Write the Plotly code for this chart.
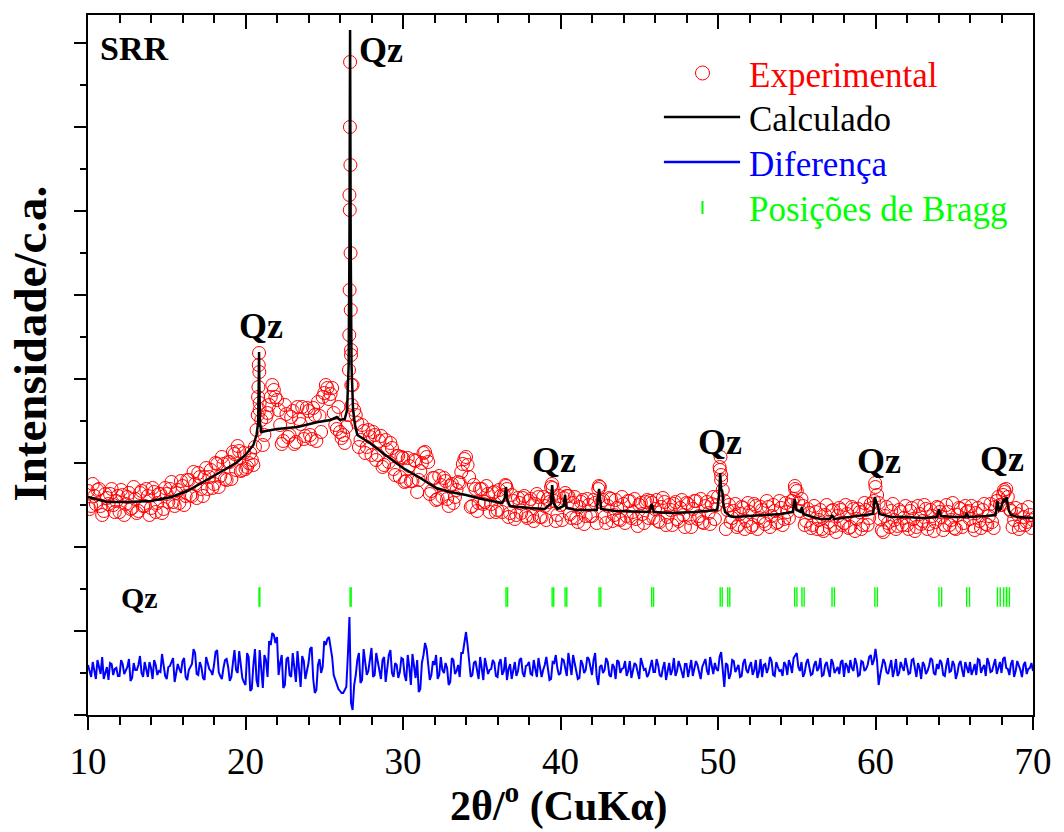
import numpy as np
import plotly.graph_objects as go

FONT = "Liberation Serif"

# ---------------- data (intensity in arbitrary units) ----------------
two_theta_start = 10.0
two_theta_step = 0.2          # main grid: 10.0, 10.2, ..., 70.0
two_theta_mid_start = 10.1    # intermediate grid: 10.1, 10.3, ..., 69.9

experimental = [
    224, 209, 219, 225, 209, 204, 217, 221, 210, 214,
    203, 220, 211, 222, 207, 216, 204, 224, 209, 219,
    207, 223, 212, 221, 206, 221, 226, 213, 222, 212,
    229, 219, 235, 219, 231, 242, 226, 238, 226, 245,
    231, 251, 239, 251, 235, 253, 263, 245, 264, 245,
    246, 252, 255, 268, 318, 295, 280, 302, 318, 325,
    315, 290, 274, 301, 280, 304, 273, 296, 308, 279,
    304, 276, 300, 313, 283, 322, 327, 321, 302, 286,
    283, 280, 288, 520, 330, 300, 268, 290, 262, 285,
    260, 280, 260, 279, 250, 265, 272, 246, 259, 238,
    257, 234, 249, 234, 254, 235, 252, 263, 253, 224,
    237, 216, 230, 237, 216, 229, 212, 225, 232, 251,
    258, 238, 209, 226, 212, 226, 213, 221, 211, 223,
    205, 219, 220, 226, 202, 214, 200, 212, 217, 199,
    214, 199, 211, 218, 198, 209, 216, 228, 214, 200,
    210, 217, 219, 201, 212, 197, 208, 215, 199, 210,
    199, 212, 226, 213, 198, 209, 216, 200, 207, 195,
    211, 199, 214, 203, 196, 210, 201, 213, 197, 212,
    206, 194, 208, 213, 198, 205, 211, 196, 207, 200,
    212, 197, 206, 214, 199, 193, 209, 202, 211, 196,
    218, 240, 214, 205, 193, 204, 188, 201, 207, 194,
    203, 190, 209, 197, 205, 191, 208, 199, 204, 193,
    207, 196, 203, 210, 216, 224, 204, 209, 194, 202,
    190, 203, 195, 186, 200, 193, 204, 189, 199, 205,
    192, 201, 188, 206, 196, 203, 190, 205, 197, 207,
    228, 212, 185, 199, 192, 204, 195, 189, 203, 197,
    190, 204, 196, 188, 201, 194, 206, 191, 199, 193,
    207, 198, 190, 203, 195, 187, 200, 206, 192, 203,
    196, 189, 202, 194, 205, 191, 199, 193, 208, 218,
    210, 223, 218, 204, 195, 201, 190, 198, 193, 200,
    195,
]

experimental_mid = [
    206, 231, 211, 226, 200, 221, 211, 226, 203, 219,
    225, 200, 218, 206, 228, 202, 222, 209, 226, 200,
    227, 203, 221, 202, 227, 213, 233, 209, 225, 234,
    210, 235, 220, 243, 217, 238, 219, 247, 238, 227,
    252, 228, 258, 236, 253, 236, 261, 269, 244, 262,
    248, 262, 250, 285, 312, 270, 298, 310, 330, 318,
    305, 271, 310, 278, 298, 271, 308, 291, 276, 307,
    280, 307, 274, 299, 318, 330, 316, 327, 290, 308,
    277, 272, 300, 365, 305, 292, 275, 284, 268, 278,
    283, 255, 274, 248, 275, 253, 267, 240, 259, 258,
    233, 257, 234, 255, 223, 244, 262, 258, 221, 237,
    215, 239, 218, 234, 209, 231, 218, 233, 243, 256,
    250, 208, 230, 204, 226, 211, 229, 203, 222, 203,
    225, 203, 230, 198, 220, 196, 217, 202, 219, 197,
    216, 194, 221, 198, 218, 195, 213, 227, 194, 219,
    195, 222, 219, 197, 218, 193, 213, 191, 216, 199,
    215, 192, 228, 215, 192, 217, 194, 215, 196, 218,
    192, 214, 197, 216, 189, 212, 192, 215, 214, 197,
    215, 193, 217, 190, 210, 190, 213, 194, 215, 188,
    211, 188, 214, 196, 216, 192, 213, 191, 218, 210,
    248, 225, 186, 210, 197, 211, 190, 208, 186, 212,
    188, 211, 186, 208, 194, 214, 188, 210, 192, 214,
    190, 212, 197, 214, 226, 212, 216, 190, 206, 187,
    209, 186, 205, 184, 210, 187, 205, 183, 207, 190,
    210, 187, 208, 184, 206, 186, 212, 190, 211, 214,
    220, 196, 183, 208, 188, 211, 186, 205, 190, 209,
    186, 207, 184, 209, 191, 210, 186, 205, 184, 208,
    203, 185, 210, 190, 212, 186, 207, 188, 209, 204,
    209, 185, 207, 187, 211, 190, 211, 187, 214, 210,
    220, 226, 206, 188, 207, 186, 205, 190, 208, 187,
]

# extra experimental points on the steep flanks of the strong reflections
peak_two_theta = [20.78, 20.82, 20.84, 20.86, 20.88, 20.90,
                  26.57, 26.59, 26.61, 26.62, 26.63, 26.64, 26.66, 26.67, 26.68, 26.70, 26.72, 26.74,
                  36.54, 39.46, 42.44, 50.12, 50.16, 50.20, 54.88, 59.98, 68.16]
peak_intensity = [300, 328, 350, 362, 343, 305,
                  345, 380, 425, 505, 588, 653, 550, 462, 405, 360, 330, 310,
                  229, 231, 229, 245, 258, 235, 229, 232, 225]

calc_two_theta = [
    10.0, 11.2, 12.5, 14.0, 15.3, 16.3, 17.2, 18.3, 19.4, 20.0,
    20.5, 20.7, 20.8, 20.84, 20.86, 20.88, 20.92, 21.0, 21.3, 22.0,
    23.3, 24.6, 25.4, 25.8, 26.0, 26.3, 26.45, 26.55, 26.6, 26.64,
    26.68, 26.73, 26.83, 26.95, 27.1, 27.9, 28.8, 30.0, 31.1, 32.1,
    33.0, 34.0, 35.0, 36.3, 36.46, 36.54, 36.62, 36.8, 38.0, 39.0,
    39.38, 39.47, 39.56, 39.8, 40.2, 40.29, 40.38, 41.0, 42.3, 42.45,
    42.58, 43.5, 45.65, 45.79, 45.93, 47.0, 48.5, 49.95, 50.08, 50.14,
    50.2, 50.27, 50.33, 50.45, 50.62, 50.75, 51.0, 52.0, 53.0, 54.0,
    54.75, 54.87, 54.98, 55.25, 55.33, 55.42, 56.0, 56.5, 57.1, 57.24,
    57.38, 58.5, 59.85, 59.96, 60.05, 60.12, 60.25, 61.0, 62.0, 63.0,
    63.9, 64.03, 64.15, 65.0, 65.7, 65.79, 65.9, 67.0, 67.62, 67.74,
    67.84, 67.95, 68.14, 68.25, 68.32, 68.45, 68.6, 69.0, 70.0,
]
calculated = [
    218, 213, 213, 214, 218, 224, 232, 242, 252, 260,
    270, 280, 292, 330, 363, 330, 292, 283, 284, 286,
    288, 293, 295, 298, 295, 296, 305, 350, 470, 685,
    470, 350, 305, 290, 280, 272, 261, 247, 237, 227,
    223, 220, 216, 212, 217, 228, 215, 209, 207, 206,
    211, 230, 212, 206, 209, 220, 207, 205, 205, 226,
    206, 204, 203, 211, 203, 202, 203, 205, 222, 242,
    226, 224, 212, 203, 201, 199, 198, 199, 200, 201,
    203, 216, 205, 203, 208, 201, 198, 196, 196, 200,
    196, 198, 201, 218, 212, 211, 201, 198, 198, 197,
    198, 206, 199, 198, 198, 202, 198, 199, 200, 214,
    205, 206, 216, 213, 218, 205, 200, 198, 197,
]

difference = [
    50, 38, 46, 55, 41, 36, 48, 52, 40, 47,
    39, 51, 44, 56, 37, 45, 50, 42, 53, 38,
    47, 55, 40, 43, 52, 36, 49, 57, 41, 46,
    54, 38, 45, 51, 62, 40, 48, 35, 53, 44,
    50, 65, 39, 47, 56, 34, 52, 45, 64, 37,
    30, 58, 26, 66, 28, 45, 60, 38, 70, 80,
    78, 52, 27, 56, 40, 62, 33, 48, 59, 36,
    52, 68, 22, 50, 42, 74, 76, 68, 40, 30,
    24, 22, 28, 98, 5, 40, 62, 35, 55, 44,
    67, 40, 53, 36, 58, 45, 65, 38, 50, 43,
    56, 34, 48, 61, 37, 23, 52, 72, 46, 40,
    50, 36, 58, 42, 47, 33, 55, 44, 38, 62,
    83, 50, 40, 54, 36, 48, 57, 41, 46, 52,
    38, 56, 44, 35, 51, 47, 39, 55, 42, 49,
    53, 40, 46, 57, 38, 50, 44, 36, 52, 47,
    42, 55, 39, 48, 60, 44, 37, 51, 45, 56,
    40, 62, 30, 50, 45, 53, 38, 48, 55, 42,
    47, 39, 54, 44, 50, 36, 52, 46, 41, 55,
    43, 50, 38, 53, 46, 40, 57, 44, 49, 37,
    51, 45, 39, 54, 42, 48, 56, 40, 47, 52,
    44, 63, 28, 50, 41, 54, 46, 38, 52, 45,
    49, 40, 55, 43, 38, 51, 47, 54, 39, 48,
    45, 53, 40, 50, 57, 62, 44, 38, 52, 46,
    41, 54, 47, 39, 50, 45, 56, 42, 48, 53,
    38, 49, 55, 44, 51, 40, 53, 46, 58, 50,
    66, 30, 47, 52, 41, 55, 45, 39, 53, 44,
    50, 42, 56, 38, 47, 53, 41, 49, 55, 40,
    46, 52, 39, 57, 44, 50, 42, 54, 38, 48,
    53, 45, 40, 55, 47, 39, 52, 44, 56, 48,
    42, 58, 46, 51, 38, 54, 45, 50, 41, 47,
    44,
]

difference_mid = [
    44, 53, 36, 49, 58, 42, 35, 51, 46, 39,
    55, 41, 48, 34, 52, 45, 59, 38, 47, 53,
    36, 50, 44, 61, 39, 48, 54, 33, 51, 42,
    57, 35, 49, 66, 41, 53, 37, 58, 46, 40,
    63, 43, 36, 55, 48, 38, 65, 42, 51, 33,
    62, 24, 50, 35, 65, 27, 55, 74, 82, 72,
    40, 60, 30, 58, 38, 50, 64, 28, 54, 45,
    66, 36, 25, 56, 48, 70, 78, 58, 35, 26,
    22, 26, 60, 12, 30, 55, 32, 66, 40, 58,
    38, 62, 44, 55, 33, 60, 42, 52, 37, 57,
    40, 60, 30, 46, 55, 26, 60, 66, 35, 54,
    60, 40, 45, 52, 30, 57, 41, 50, 62, 75,
    70, 38, 52, 44, 58, 35, 50, 45, 55, 39,
    52, 40, 58, 46, 36, 53, 44, 57, 38, 50,
    41, 55, 38, 49, 45, 58, 35, 53, 60, 40,
    56, 48, 62, 40, 53, 36, 55, 42, 58, 46,
    55, 38, 48, 42, 57, 40, 51, 36, 53, 46,
    54, 44, 37, 52, 41, 57, 45, 38, 50, 43,
    56, 40, 47, 35, 52, 45, 39, 54, 42, 51,
    38, 55, 46, 50, 36, 53, 44, 58, 41, 46,
    58, 40, 52, 36, 55, 43, 50, 39, 56, 42,
    53, 45, 37, 56, 50, 42, 58, 40, 53, 44,
    39, 50, 55, 42, 60, 48, 53, 42, 56, 40,
    50, 44, 57, 40, 53, 38, 52, 46, 41, 55,
    52, 42, 47, 57, 39, 54, 44, 50, 60, 55,
    54, 40, 56, 43, 50, 38, 56, 42, 48, 57,
    41, 55, 45, 52, 36, 50, 44, 57, 42, 51,
    55, 40, 50, 43, 54, 36, 51, 45, 53, 42,
    40, 51, 56, 42, 50, 57, 43, 49, 41, 53,
    56, 47, 40, 55, 44, 50, 38, 53, 46, 52,
]

bragg_positions = [20.86, 20.91, 26.64, 26.71, 36.54, 36.64, 39.47, 39.57, 40.29, 40.40,
                   42.45, 42.56, 45.79, 45.91, 50.14, 50.27, 50.62, 50.75, 54.87, 55.01,
                   55.33, 55.47, 57.24, 57.39, 59.96, 60.12, 64.03, 64.20, 65.79, 65.97,
                   67.74, 67.92, 68.14, 68.31, 68.33, 68.50]
bragg_level = 118

qz_labels_x = [28.6, 21.0, 39.6, 50.1, 60.25, 68.05]
qz_labels_y = [665, 389, 255, 273, 254, 256]

# ---------------- build ----------------
grid = two_theta_start + two_theta_step * np.arange(len(experimental))
grid_mid = two_theta_mid_start + two_theta_step * np.arange(len(experimental_mid))

obs_x = np.concatenate([grid, grid_mid, peak_two_theta])
obs_y = np.concatenate([experimental, experimental_mid, peak_intensity])

diff_x = np.concatenate([grid, grid_mid])
diff_y = np.concatenate([difference, difference_mid])
order = np.argsort(diff_x)
diff_x, diff_y = diff_x[order], diff_y[order]

fig = go.Figure()
fig.add_trace(go.Scatter(
    x=obs_x, y=obs_y, mode="markers", name="Experimental",
    marker=dict(symbol="circle-open", size=13, color="#FF0000", line=dict(width=1, color="#FF0000")),
    showlegend=False, hoverinfo="skip"))
fig.add_trace(go.Scatter(
    x=calc_two_theta, y=calculated, mode="lines", name="Calculado",
    line=dict(color="black", width=2.5), showlegend=False, hoverinfo="skip"))
fig.add_trace(go.Scatter(
    x=diff_x, y=diff_y, mode="lines", name="Diferença",
    line=dict(color="#0000FF", width=2), showlegend=False, hoverinfo="skip"))
fig.add_trace(go.Scatter(
    x=bragg_positions, y=[bragg_level] * len(bragg_positions), mode="markers",
    name="Posições de Bragg",
    marker=dict(symbol="line-ns", size=14, line=dict(width=1.4, color="#00FF00"), color="#00FF00"),
    showlegend=False, hoverinfo="skip"))
# invisible trace to carry the top axis (inward ticks)
fig.add_trace(go.Scatter(x=[10], y=[0], xaxis="x2", mode="markers",
                         marker=dict(opacity=0), showlegend=False, hoverinfo="skip"))

L, R, T, B = 88, 21, 15, 117
W, H = 1064, 832
PW, PH = W - L - R, H - T - B


def px(xp):
    return (xp - L) / PW


def py(yp):
    return (H - B - yp) / PH


annotations = []
annotations.append(dict(x=12.95, y=667, xref="x", yref="y", text="<b>SRR</b>", showarrow=False,
                        xanchor="center", yanchor="middle",
                        font=dict(family=FONT, size=34, color="black")))
for qx, qy in zip(qz_labels_x, qz_labels_y):
    annotations.append(dict(x=qx, y=qy, xref="x", yref="y", text="<b>Qz</b>", showarrow=False,
                            xanchor="center", yanchor="middle",
                            font=dict(family=FONT, size=36, color="black")))
annotations.append(dict(x=13.3, y=bragg_level, xref="x", yref="y", text="<b>Qz</b>", showarrow=False,
                        xanchor="center", yanchor="middle",
                        font=dict(family=FONT, size=30, color="black")))
# axis titles
annotations.append(dict(x=px(564), y=py(803), xref="paper", yref="paper",
                        xanchor="center", yanchor="middle",
                        text="<b>2θ/<sup>o</sup> (CuKα)</b>", showarrow=False,
                        font=dict(family=FONT, size=42, color="black")))
annotations.append(dict(x=px(29), y=py(344), xref="paper", yref="paper", textangle=-90,
                        xanchor="center", yanchor="middle",
                        text="<b>Intensidade/c.a.</b>", showarrow=False,
                        font=dict(family=FONT, size=47, color="black")))
# legend texts
legend_items = [("Experimental", "#FF0000", 75), ("Calculado", "black", 119),
                ("Diferença", "#0000FF", 164), ("Posições de Bragg", "#00FF00", 209)]
for txt, col, yy in legend_items:
    annotations.append(dict(x=px(754), y=py(yy), xref="paper", yref="paper",
                            xanchor="left", yanchor="middle",
                            text=txt, showarrow=False, font=dict(family=FONT, size=35, color=col)))

shapes = [
    dict(type="circle", xref="paper", yref="paper", xsizemode="pixel", ysizemode="pixel",
         xanchor=px(709), yanchor=py(73), x0=-7, x1=7, y0=-7, y1=7,
         line=dict(color="#FF0000", width=1)),
    dict(type="line", xref="paper", yref="paper", x0=px(670), x1=px(747), y0=py(117), y1=py(117),
         line=dict(color="black", width=2.5)),
    dict(type="line", xref="paper", yref="paper", x0=px(670), x1=px(747), y0=py(162), y1=py(162),
         line=dict(color="#0000FF", width=2.5)),
    dict(type="line", xref="paper", yref="paper", x0=px(709), x1=px(709), y0=py(214), y1=py(201),
         line=dict(color="#00FF00", width=2)),
]

fig.update_layout(
    width=W, height=H, margin=dict(l=L, r=R, t=T, b=B),
    paper_bgcolor="white", plot_bgcolor="white", showlegend=False,
    font=dict(family=FONT, color="black"),
    xaxis=dict(range=[10, 70], tick0=10, dtick=10, ticks="outside", ticklen=13, tickwidth=2,
               tickcolor="black", showline=True, linewidth=2, linecolor="black", mirror=True,
               showgrid=False, zeroline=False,
               tickfont=dict(family=FONT, size=37, color="black"),
               minor=dict(dtick=2, ticks="outside", ticklen=8, tickwidth=2, tickcolor="black",
                          showgrid=False)),
    xaxis2=dict(range=[10, 70], overlaying="x", side="top", anchor="y", tick0=10, dtick=10,
                ticks="inside", ticklen=14, tickwidth=2, tickcolor="black", showticklabels=False,
                showline=False, showgrid=False, zeroline=False,
                minor=dict(dtick=2, ticks="inside", ticklen=8, tickwidth=2, tickcolor="black",
                           showgrid=False)),
    yaxis=dict(range=[0, 700], tick0=0, dtick=84, ticks="outside", ticklen=12, tickwidth=2,
               tickcolor="black", showticklabels=False, showline=True, linewidth=2,
               linecolor="black", mirror=True, showgrid=False, zeroline=False,
               minor=dict(dtick=42, ticks="outside", ticklen=6, tickwidth=2, tickcolor="black",
                          showgrid=False)),
    annotations=annotations, shapes=shapes,
)

fig.write_html("out.html", config={"displayModeBar": False},
               post_script="document.body.style.margin='0';document.body.style.overflow='hidden';")
